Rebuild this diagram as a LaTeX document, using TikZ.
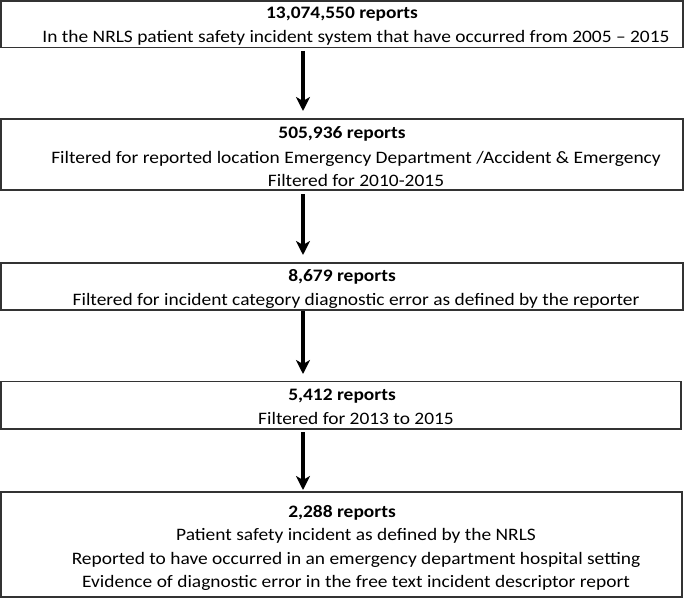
\documentclass[tikz,border=0pt]{standalone}
\usepackage{fontspec}
\setmainfont{Carlito}
\usetikzlibrary{arrows.meta}
\newcommand{\widetxt}[1]{\scalebox{1.11}[1.0]{#1}}
\begin{document}
\begin{tikzpicture}[x=1pt,y=-1pt,
  box/.style={draw=black!80,line width=1.3pt,inner sep=0pt,outer sep=0pt},
  ttl/.style={font=\fontsize{17.5}{20}\selectfont\bfseries,inner sep=0pt,anchor=base},
  txt/.style={font=\fontsize{17.5}{20}\selectfont,inner sep=0pt,anchor=base},
  arr/.style={line width=3.2pt,-{Stealth[length=14pt,width=14pt,inset=4pt]}}]
\useasboundingbox (0,0) rectangle (685,599);
% boxes
\node[box,minimum width=682pt,minimum height=46.5pt] (b1) at (342,24.25) {};
\node[box,minimum width=682pt,minimum height=71pt] (b2) at (342,154.5) {};
\node[box,minimum width=682pt,minimum height=47pt] (b3) at (342,286.5) {};
\node[box,minimum width=680pt,minimum height=47.5pt] (b4) at (341,405.25) {};
\node[box,minimum width=681pt,minimum height=105pt] (b5) at (341.5,544.5) {};
% texts
\node[ttl] (t1a) at (342,19) {\widetxt{13,074,550 reports}};
\node[txt] (t1b) at (356,42.7) {\widetxt{In the NRLS patient safety incident system that have occurred from 2005 – 2015}};
\node[ttl] (t2a) at (342,139) {\widetxt{505,936 reports}};
\node[txt] (t2b) at (356,163) {\widetxt{Filtered for reported location Emergency Department /Accident \& Emergency}};
\node[txt] (t2c) at (356,186.3) {\widetxt{Filtered for 2010-2015}};
\node[ttl] (t3a) at (342,281.5) {\widetxt{8,679 reports}};
\node[txt] (t3b) at (356,305) {\widetxt{Filtered for incident category diagnostic error as defined by the reporter}};
\node[ttl] (t4a) at (342,400.5) {\widetxt{5,412 reports}};
\node[txt] (t4b) at (356,424) {\widetxt{Filtered for 2013 to 2015}};
\node[ttl] (t5a) at (342,517.5) {\widetxt{2,288 reports}};
\node[txt] (t5b) at (356,540.5) {\widetxt{Patient safety incident as defined by the NRLS}};
\node[txt] (t5c) at (356,564) {\widetxt{Reported to have occurred in an emergency department hospital setting}};
\node[txt] (t5d) at (356,587.5) {\widetxt{Evidence of diagnostic error in the free text incident descriptor report}};
% arrows
\coordinate (ax) at (303,0);
\draw[arr,shorten <=3.5pt,shorten >=8pt] (b1.south -| ax) -- (b2.north -| ax);
\draw[arr,shorten <=4pt,shorten >=8pt] (b2.south -| ax) -- (b3.north -| ax);
\draw[arr,shorten <=1pt,shorten >=7.5pt] (b3.south -| ax) -- (b4.north -| ax);
\draw[arr,shorten <=3pt,shorten >=2pt] (b4.south -| ax) -- (b5.north -| ax);
\end{tikzpicture}
\end{document}
